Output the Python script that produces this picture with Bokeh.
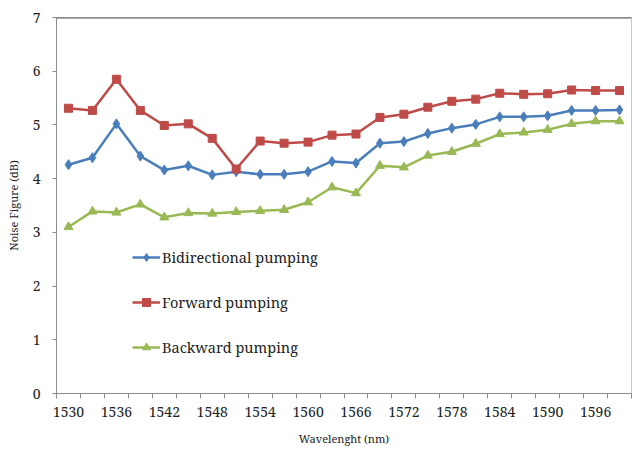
from bokeh.plotting import figure
from bokeh.models import FixedTicker, Legend, LegendItem, Span
from bokeh.embed import file_html
from bokeh.resources import INLINE

# Wavelength grid (nm) and measured noise figure (dB) for each pumping scheme
wavelength = [1530, 1533, 1536, 1539, 1542, 1545, 1548, 1551, 1554, 1557, 1560, 1563,
              1566, 1569, 1572, 1575, 1578, 1581, 1584, 1587, 1590, 1593, 1596, 1599]
bidirectional = [4.26, 4.39, 5.02, 4.42, 4.16, 4.24, 4.07, 4.13, 4.08, 4.08, 4.13, 4.32,
                 4.29, 4.66, 4.69, 4.84, 4.94, 5.01, 5.15, 5.15, 5.17, 5.27, 5.27, 5.28]
forward = [5.31, 5.27, 5.85, 5.27, 4.99, 5.02, 4.75, 4.18, 4.70, 4.66, 4.68, 4.81,
           4.83, 5.14, 5.20, 5.33, 5.44, 5.48, 5.59, 5.57, 5.58, 5.65, 5.64, 5.64]
backward = [3.10, 3.39, 3.37, 3.52, 3.28, 3.36, 3.35, 3.38, 3.40, 3.42, 3.56, 3.84,
            3.73, 4.24, 4.21, 4.43, 4.50, 4.65, 4.83, 4.86, 4.91, 5.02, 5.07, 5.07]

x_labels = [1530, 1536, 1542, 1548, 1554, 1560, 1566, 1572, 1578, 1584, 1590, 1596]
y_ticks = [0, 1, 2, 3, 4, 5, 6, 7]

FONT = "Noto Serif"
BLUE, RED, GREEN = "#4a7ebb", "#be4b48", "#98b954"

step = 3.0
boundaries = [wavelength[0] - step / 2 + i * step for i in range(len(wavelength) + 1)]

p = figure(width=632, height=450, output_backend="svg", toolbar_location=None,
           x_range=(boundaries[0], boundaries[-1]), y_range=(0, 7),
           min_border_left=56, min_border_right=1, min_border_top=17, min_border_bottom=57)

p.background_fill_color = "white"
p.border_fill_color = "white"
p.outline_line_color = "#c8c8c8"
p.outline_line_width = 1
p.grid.visible = False

# x axis: labels on every other wavelength, tick marks on category boundaries
p.xaxis.ticker = FixedTicker(ticks=x_labels, minor_ticks=boundaries)
p.xaxis.major_tick_line_color = None
p.xaxis.minor_tick_line_color = "#8c8c8c"
p.xaxis.minor_tick_in = 0
p.xaxis.minor_tick_out = 5
p.xaxis.axis_line_color = "#8c8c8c"
p.xaxis.major_label_standoff = 7
p.xaxis.axis_label = "Wavelenght (nm)"
p.xaxis.axis_label_standoff = 11

p.yaxis.ticker = FixedTicker(ticks=y_ticks)
p.yaxis.minor_tick_line_color = None
p.yaxis.major_tick_line_color = "#8c8c8c"
p.yaxis.major_tick_in = 0
p.yaxis.major_tick_out = 4
p.yaxis.axis_line_color = "#8c8c8c"
p.yaxis.major_label_standoff = 12
p.yaxis.axis_label = "Noise Figure (dB)"
p.yaxis.axis_label_standoff = 9

for ax in (p.xaxis, p.yaxis):
    ax.major_label_text_font = FONT
    ax.major_label_text_font_size = "14px"
    ax.major_label_text_color = "#222222"
    ax.axis_label_text_font = FONT
    ax.axis_label_text_font_size = "11px"
    ax.axis_label_text_font_style = "normal"
    ax.axis_label_text_color = "#222222"

# dark top edge of the plot area
p.add_layout(Span(location=7, dimension="width", line_color="#555555", line_width=2))

lb = p.line(wavelength, bidirectional, line_color=BLUE, line_width=2.5)
mb = p.scatter(wavelength, bidirectional, marker="diamond", size=10,
               fill_color=BLUE, line_color=BLUE)
lf = p.line(wavelength, forward, line_color=RED, line_width=2.5)
mf = p.scatter(wavelength, forward, marker="square", size=8,
               fill_color=RED, line_color=RED)
lg = p.line(wavelength, backward, line_color=GREEN, line_width=2.5)
mg = p.scatter(wavelength, backward, marker="triangle", size=9,
               fill_color=GREEN, line_color=GREEN)

legend = Legend(items=[
    LegendItem(label="Bidirectional pumping", renderers=[lb, mb]),
    LegendItem(label="Forward pumping", renderers=[lf, mf]),
    LegendItem(label="Backward pumping", renderers=[lg, mg]),
], location=(76, 36))
legend.border_line_color = None
legend.background_fill_alpha = 0
legend.padding = 0
legend.margin = 0
legend.glyph_width = 28
legend.glyph_height = 20
legend.label_height = 20
legend.spacing = 25
legend.label_standoff = 2
legend.label_text_font = FONT
legend.label_text_font_size = "14.5px"
legend.label_text_color = "#222222"
p.add_layout(legend)

open("out.html", "w").write(file_html(p, INLINE))
